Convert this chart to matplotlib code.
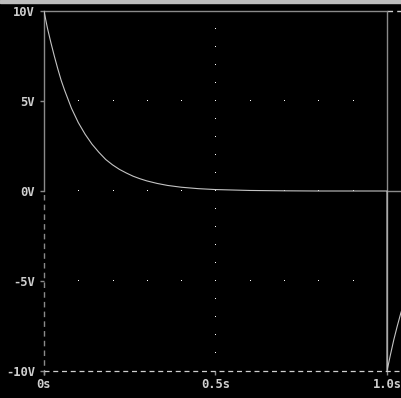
import matplotlib.pyplot as plt
import numpy as np

# capacitor voltage (s, V)
t = [0.0, 0.01, 0.02, 0.03, 0.04, 0.05, 0.06, 0.07, 0.08, 0.09, 0.10, 0.12, 0.14,
     0.16, 0.18, 0.20, 0.22, 0.24, 0.26, 0.28, 0.30, 0.33, 0.36, 0.40, 0.45,
     0.50, 0.60, 0.70, 0.80, 0.90, 1.0,
     1.0, 1.01, 1.02, 1.03, 1.04, 1.05]
v = [10.0, 9.05, 8.25, 7.5, 6.8, 6.15, 5.6, 5.1, 4.6, 4.2, 3.8, 3.15, 2.6,
     2.15, 1.75, 1.45, 1.2, 1.0, 0.82, 0.68, 0.56, 0.42, 0.31, 0.21, 0.13,
     0.08, 0.03, 0.01, 0.0, 0.0, 0.0,
     -10.0, -9.1, -8.25, -7.5, -6.8, -6.2]

yticks = [-10, -5, 0, 5, 10]
ylabels = ['-10V', '-5V', '0V', '5V', '10V']
xticks = [0, 0.5, 1.0]
xlabels = ['0s', '0.5s', '1.0s']

axis_col = '#8a8a8a'
text_col = '#cfcfcf'
trace_col = '#c4c4c4'

fig = plt.figure(figsize=(4.02, 3.98), dpi=100, facecolor='black')
ax = fig.add_axes([44 / 402, 27 / 398, 358 / 402, 360 / 398])
ax.set_facecolor('black')
xmax = 358 / 343
ax.set_xlim(0, xmax)
ax.set_ylim(-10, 10)
for s in ax.spines.values():
    s.set_visible(False)

# frame, pspice style: solid parts and dashed parts
ax.plot([0, 0], [0, 10], color=axis_col, lw=1.0, clip_on=False)
ax.plot([0, 0], [-10.2, 0], color=axis_col, lw=1.0, ls=(0, (4, 3)), clip_on=False)
ax.plot([0, 1.0], [10, 10], color=axis_col, lw=1.0, clip_on=False)
ax.plot([1.0, xmax], [10, 10], color=text_col, lw=1.0, ls=(0, (4, 3)), clip_on=False)
ax.plot([0, xmax], [-10, -10], color=text_col, lw=0.9, ls=(0, (4, 3)), clip_on=False)
ax.plot([1.0, 1.0], [-10, 10], color=axis_col, lw=1.0)
ax.plot([1.0, xmax], [0, 0], color=axis_col, lw=1.0)

# dotted grid, one pixel per dot
gx = np.arange(1, 10) * 0.1
for gy in [-5, 0, 5]:
    ax.plot(gx, [gy] * len(gx), ls='none', marker=',', color='white')
gy = np.arange(-9, 10)
ax.plot([0.5] * len(gy), gy, ls='none', marker=',', color='white')

ax.plot(t, v, color=trace_col, lw=0.8)

ax.set_yticks(yticks)
ax.set_yticklabels(ylabels)
ax.set_xticks(xticks)
ax.set_xticklabels(xlabels)
ax.tick_params(axis='both', colors=axis_col, length=3, width=1.0, labelcolor=text_col)
ax.tick_params(axis='y', pad=3.5)
ax.tick_params(axis='x', pad=2)
for lab in ax.get_xticklabels() + ax.get_yticklabels():
    lab.set_family('DejaVu Sans Mono')
    lab.set_fontweight('bold')
    lab.set_fontsize(8.7)

# window border at the top
fig.patches.append(plt.Rectangle((0, 1 - 3 / 398), 1, 3 / 398, transform=fig.transFigure,
                                 color='#bdbdbd', zorder=10))

fig.savefig('out.png', dpi=100, facecolor='black')
